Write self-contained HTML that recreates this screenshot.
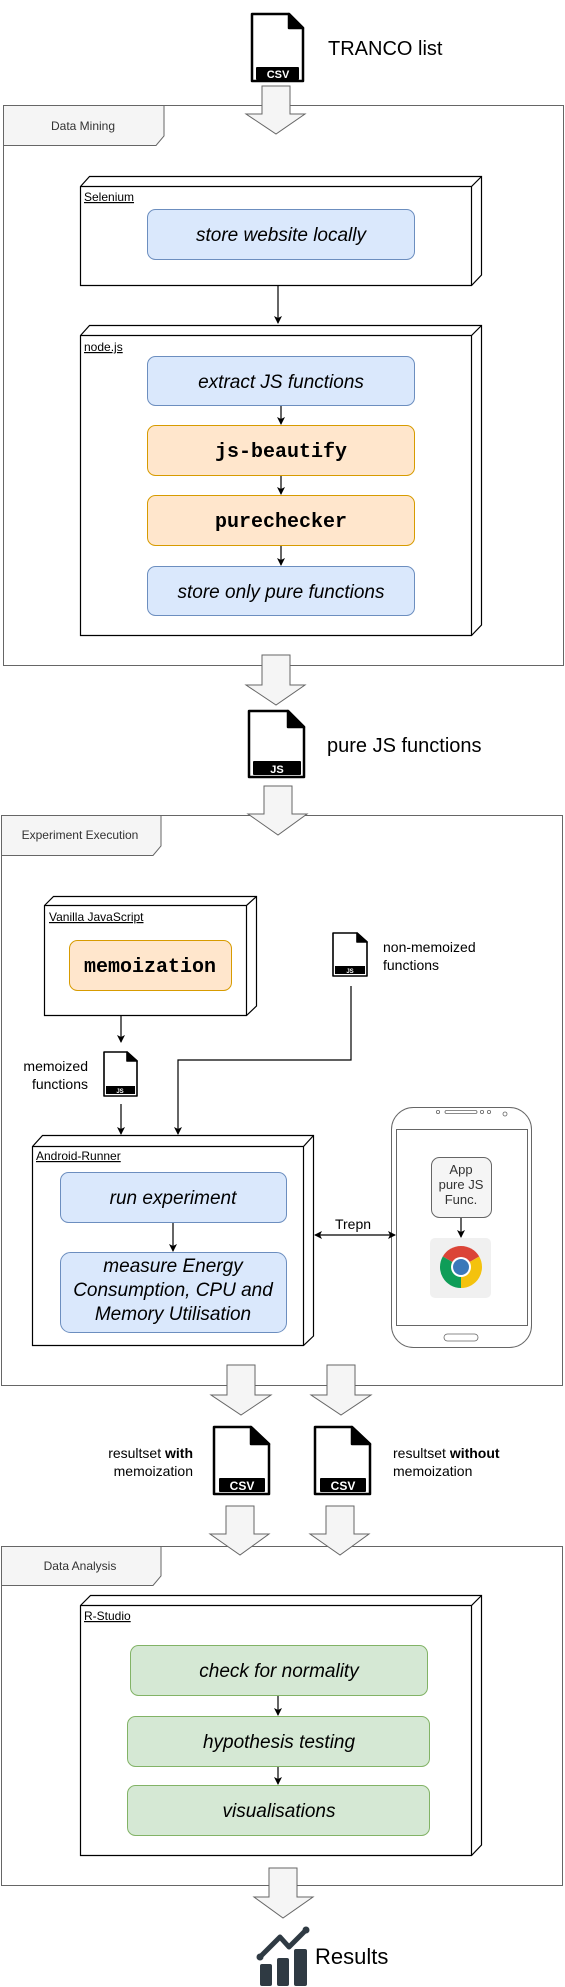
<!DOCTYPE html>
<html><head><meta charset="utf-8"><style>
html,body{margin:0;padding:0;background:#fff;}
svg{display:block;font-family:"Liberation Sans",sans-serif;}
</style></head><body>
<svg width="565" height="1987" viewBox="0 0 565 1987" xmlns="http://www.w3.org/2000/svg">
<defs>
<marker id="ah" markerWidth="8" markerHeight="8" refX="7" refY="4" orient="auto" markerUnits="userSpaceOnUse"><path d="M0,0 L8,4 L0,8 L2,4 z" fill="#000"/></marker>
<marker id="ahs" markerWidth="8" markerHeight="8" refX="1" refY="4" orient="auto" markerUnits="userSpaceOnUse"><path d="M8,0 L0,4 L8,8 L6,4 z" fill="#000"/></marker>
</defs>

<!-- Frames -->
<g fill="none" stroke="#666" stroke-width="1">
<rect x="3.5" y="105.5" width="560" height="560"/>
<rect x="1.5" y="815.5" width="561" height="570"/>
<rect x="1.5" y="1546.5" width="561" height="339"/>
</g>
<g fill="#f5f5f5" stroke="#666" stroke-width="1">
<path d="M3.5,105.5 H164 V136 L156,145.5 H3.5 z"/>
<path d="M1.5,815.5 H161 V846 L153,855.5 H1.5 z"/>
<path d="M1.5,1546.5 H161 V1576 L153,1585.5 H1.5 z"/>
</g>
<g font-size="12" fill="#333" text-anchor="middle">
<text x="83" y="130">Data Mining</text>
<text x="80" y="839">Experiment Execution</text>
<text x="80" y="1570">Data Analysis</text>
</g>

<!-- Block arrows -->
<g fill="#f5f5f5" stroke="#666" stroke-width="1">
<path d="M262,86 H290 V114 H305 L276,134 L246,114 H262 z"/>
<path d="M262,655 H290 V685 H305 L276,705 L246,685 H262 z"/>
<path d="M264,786 H292 V814 H307 L278,835 L248,814 H264 z"/>
<path d="M227,1365 H255 V1395 H271 L241,1415 L211,1395 H227 z"/>
<path d="M327,1365 H355 V1395 H371 L341,1415 L311,1395 H327 z"/>
<path d="M226,1506 H254 V1534 H269 L240,1555 L210,1534 H226 z"/>
<path d="M326,1506 H354 V1534 H369 L340,1555 L310,1534 H326 z"/>
<path d="M269,1868 H297 V1897 H313 L283,1918 L254,1897 H269 z"/>
</g>

<!-- File icons -->
<g stroke="#000" stroke-width="2.5" stroke-linejoin="round">
<path d="M252,14 H289 L303,28 V81 H252 z" fill="#fff"/>
<path d="M289,14 L303,28 H289 z" fill="#000"/>
<path d="M249,711 H288 L304,727 V777 H249 z" fill="#fff"/>
<path d="M288,711 L304,727 H288 z" fill="#000"/>
<path d="M214,1427 H251 L269,1444 V1494 H214 z" fill="#fff"/>
<path d="M251,1427 L269,1444 H251 z" fill="#000"/>
<path d="M315,1427 H352 L370,1444 V1494 H315 z" fill="#fff"/>
<path d="M352,1427 L370,1444 H352 z" fill="#000"/>
</g>
<g stroke="#000" stroke-width="1.6" stroke-linejoin="round">
<path d="M104,1052 H127 L137,1061 V1096 H104 z" fill="#fff"/>
<path d="M127,1052 L137,1061 H127 z" fill="#000"/>
<path d="M333,933 H357 L367,942 V976 H333 z" fill="#fff"/>
<path d="M357,933 L367,942 H357 z" fill="#000"/>
</g>
<g fill="#000">
<rect x="256" y="67" width="43" height="13" rx="1"/>
<rect x="253" y="761" width="48" height="14" rx="1"/>
<rect x="219" y="1478" width="46" height="14" rx="1"/>
<rect x="320" y="1478" width="46" height="14" rx="1"/>
<rect x="106" y="1086" width="29" height="8"/>
<rect x="335" y="966" width="30" height="8"/>
</g>
<g fill="#fff" font-weight="bold" text-anchor="middle">
<text x="278" y="78" font-size="11">CSV</text>
<text x="277" y="773" font-size="11">JS</text>
<text x="242" y="1490" font-size="12">CSV</text>
<text x="343" y="1490" font-size="12">CSV</text>
<text x="120" y="1093" font-size="6">JS</text>
<text x="350" y="973" font-size="6">JS</text>
</g>

<!-- Outer labels -->
<g fill="#000">
<text x="328" y="55" font-size="20">TRANCO list</text>
<text x="327" y="752" font-size="20">pure JS functions</text>
<text x="88" y="1071" font-size="14" text-anchor="end">memoized</text>
<text x="88" y="1089" font-size="14" text-anchor="end">functions</text>
<text x="383" y="952" font-size="14">non-memoized</text>
<text x="383" y="970" font-size="14">functions</text>
<text x="193" y="1458" font-size="14" text-anchor="end">resultset <tspan font-weight="bold">with</tspan></text>
<text x="193" y="1476" font-size="14" text-anchor="end">memoization</text>
<text x="393" y="1458" font-size="14">resultset <tspan font-weight="bold">without</tspan></text>
<text x="393" y="1476" font-size="14">memoization</text>
<text x="315" y="1964" font-size="22">Results</text>
</g>

<!-- 3D nodes -->
<g fill="#fff" stroke="#000" stroke-width="1.2">
<path d="M80.5,186.5 L89.5,176.5 H481.5 V275 L471.5,285.5 H80.5 z"/>
<path d="M80.5,186.5 H471.5 L481.5,176.5 M471.5,186.5 V285.5" fill="none"/>
<path d="M80.5,335.5 L89.5,325.5 H481.5 V625 L471.5,635.5 H80.5 z"/>
<path d="M80.5,335.5 H471.5 L481.5,325.5 M471.5,335.5 V635.5" fill="none"/>
<path d="M44.5,905.5 L53.5,896.5 H256.5 V1006 L246.5,1015.5 H44.5 z"/>
<path d="M44.5,905.5 H246.5 L256.5,896.5 M246.5,905.5 V1015.5" fill="none"/>
<path d="M32.5,1146.5 L42.5,1135.5 H313.5 V1336 L303.5,1345.5 H32.5 z"/>
<path d="M32.5,1146.5 H303.5 L313.5,1135.5 M303.5,1146.5 V1345.5" fill="none"/>
<path d="M80.5,1605.5 L90.5,1595.5 H481.5 V1845 L471.5,1855.5 H80.5 z"/>
<path d="M80.5,1605.5 H471.5 L481.5,1595.5 M471.5,1605.5 V1855.5" fill="none"/>
</g>
<g font-size="12" fill="#000" text-decoration="underline">
<text x="84" y="201">Selenium</text>
<text x="84" y="351">node.js</text>
<text x="49" y="921">Vanilla JavaScript</text>
<text x="36" y="1160">Android-Runner</text>
<text x="84" y="1620">R-Studio</text>
</g>

<!-- Process boxes -->
<g stroke-width="1">
<rect x="147.5" y="209.5" width="267" height="50" rx="8" fill="#dae8fc" stroke="#6c8ebf"/>
<rect x="147.5" y="356.5" width="267" height="49" rx="8" fill="#dae8fc" stroke="#6c8ebf"/>
<rect x="147.5" y="425.5" width="267" height="50" rx="8" fill="#ffe6cc" stroke="#d79b00"/>
<rect x="147.5" y="495.5" width="267" height="50" rx="8" fill="#ffe6cc" stroke="#d79b00"/>
<rect x="147.5" y="566.5" width="267" height="49" rx="8" fill="#dae8fc" stroke="#6c8ebf"/>
<rect x="69.5" y="940.5" width="162" height="50" rx="8" fill="#ffe6cc" stroke="#d79b00"/>
<rect x="60.5" y="1172.5" width="226" height="50" rx="8" fill="#dae8fc" stroke="#6c8ebf"/>
<rect x="60.5" y="1252.5" width="226" height="80" rx="10" fill="#dae8fc" stroke="#6c8ebf"/>
<rect x="130.5" y="1645.5" width="297" height="50" rx="8" fill="#d5e8d4" stroke="#82b366"/>
<rect x="127.5" y="1716.5" width="302" height="50" rx="8" fill="#d5e8d4" stroke="#82b366"/>
<rect x="127.5" y="1785.5" width="302" height="50" rx="8" fill="#d5e8d4" stroke="#82b366"/>
</g>
<g font-size="19" font-style="italic" fill="#000" text-anchor="middle">
<text x="281" y="241">store website locally</text>
<text x="281" y="388">extract JS functions</text>
<text x="281" y="598">store only pure functions</text>
<text x="173" y="1204">run experiment</text>
<text x="173" y="1272">measure Energy</text>
<text x="173" y="1296">Consumption, CPU and</text>
<text x="173" y="1320">Memory Utilisation</text>
<text x="279" y="1677">check for normality</text>
<text x="279" y="1748">hypothesis testing</text>
<text x="279" y="1817">visualisations</text>
</g>
<g font-family="Liberation Mono, monospace" font-weight="bold" font-size="20" fill="#000" text-anchor="middle">
<text x="281" y="457">js-beautify</text>
<text x="281" y="527">purechecker</text>
<text x="150" y="972">memoization</text>
</g>

<!-- Phone -->
<rect x="391.5" y="1107.5" width="140" height="240" rx="22" fill="#fff" stroke="#666" stroke-width="1"/>
<rect x="396.5" y="1129.5" width="131" height="196" fill="#fff" stroke="#666" stroke-width="1"/>
<g fill="none" stroke="#666" stroke-width="0.8">
<circle cx="438" cy="1112" r="1.6"/>
<rect x="445" y="1110.5" width="32" height="3" rx="1.5"/>
<circle cx="482" cy="1112" r="1.6"/>
<circle cx="489" cy="1112" r="1.6"/>
<circle cx="505" cy="1114" r="2"/>
<rect x="444" y="1334" width="34" height="7" rx="3.5"/>
</g>
<rect x="431.5" y="1157.5" width="60" height="60" rx="8" fill="#f5f5f5" stroke="#666" stroke-width="1"/>
<g font-size="13" fill="#333" text-anchor="middle">
<text x="461" y="1174">App</text>
<text x="461" y="1189">pure JS</text>
<text x="461" y="1204">Func.</text>
</g>
<rect x="430" y="1238" width="61" height="60" rx="5" fill="#f0f0f0"/>
<path d="M461,1267 L442.8,1256.5 A21,21 0 0 1 479.2,1256.5 z" fill="#db4437"/>
<path d="M461,1267 L479.2,1256.5 A21,21 0 0 1 461,1288 z" fill="#f4c20d"/>
<path d="M461,1267 L461,1288 A21,21 0 0 1 442.8,1256.5 z" fill="#0f9d58"/>
<circle cx="461" cy="1267" r="10" fill="#fff"/>
<circle cx="461" cy="1267" r="8" fill="#3b78b9"/>

<!-- Connectors -->
<g stroke="#000" stroke-width="1.2" fill="none" marker-end="url(#ah)">
<line x1="278" y1="286" x2="278" y2="323"/>
<line x1="281" y1="406" x2="281" y2="424"/>
<line x1="281" y1="476" x2="281" y2="494"/>
<line x1="281" y1="546" x2="281" y2="565"/>
<line x1="121" y1="1016" x2="121" y2="1042"/>
<line x1="121" y1="1104" x2="121" y2="1134"/>
<path d="M351,986 V1060 H178 V1134"/>
<line x1="173" y1="1223" x2="173" y2="1251"/>
<line x1="461" y1="1218" x2="461" y2="1237"/>
<line x1="278" y1="1696" x2="278" y2="1715"/>
<line x1="278" y1="1767" x2="278" y2="1784"/>
<line x1="315" y1="1235" x2="395" y2="1235" marker-start="url(#ahs)"/>
</g>
<text x="353" y="1229" font-size="14" text-anchor="middle" fill="#000">Trepn</text>

<!-- Results icon -->
<g fill="#2f3a43">
<rect x="260" y="1964" width="12" height="22" rx="2"/>
<rect x="277" y="1958" width="12" height="28" rx="2"/>
<rect x="294" y="1949" width="13" height="37" rx="2"/>
</g>
<polyline points="260,1957 280,1937 289,1947 306,1930" fill="none" stroke="#2f3a43" stroke-width="5" stroke-linecap="round" stroke-linejoin="round"/>
<circle cx="260" cy="1957" r="3.5" fill="#2f3a43"/>
<circle cx="306" cy="1930" r="3.5" fill="#2f3a43"/>
</svg>
</body></html>
